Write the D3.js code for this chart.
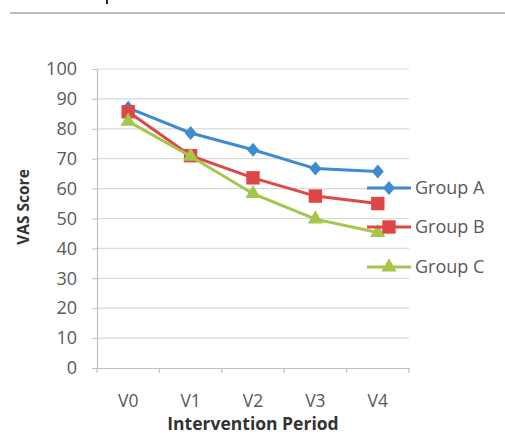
<!DOCTYPE html>
<html>
<head>
<meta charset="utf-8">
<script src="https://cdn.jsdelivr.net/npm/d3@7"></script>
<style>
  html, body { margin: 0; padding: 0; background: #fff; }
  svg { display: block; }
  text { font-family: "Open Sans", "Noto Sans", sans-serif; }
</style>
</head>
<body>
<svg id="chart" width="505" height="436"></svg>
<script>
// Visit periods and VAS scores per group
const periods = ["V0", "V1", "V2", "V3", "V4"];
const groupNames = ["Group A", "Group B", "Group C"];
const groupA = [87, 78.6, 73, 66.7, 65.7];
const groupB = [85.7, 71, 63.6, 57.5, 55];
const groupC = [82.5, 70.8, 58.3, 49.8, 45.3];
const yTicks = [0, 10, 20, 30, 40, 50, 60, 70, 80, 90, 100];
const colors = ["#3f8bd1", "#de4747", "#a4c64b"];

// Wide rhombus marker (slightly taller than wide)
const rhombus = {
  draw(context, size) {
    const w = Math.sqrt(size) * 0.55, h = Math.sqrt(size) * 0.64;
    context.moveTo(0, -h); context.lineTo(w, 0);
    context.lineTo(0, h); context.lineTo(-w, 0); context.closePath();
  }
};
const symbols = [rhombus, d3.symbolSquare, d3.symbolTriangle];
const symbolSizes = [120, 180, 100];

const series = [groupA, groupB, groupC].map((vals, i) => ({
  name: groupNames[i], values: vals, color: colors[i],
  symbol: symbols[i], size: symbolSizes[i]
}));

const svg = d3.select("#chart");
const plot = { left: 97, right: 409, top: 69, bottom: 368 };

const x = d3.scaleBand().domain(periods).range([plot.left, plot.right]);
const y = d3.scaleLinear().domain([0, 100]).range([plot.bottom, plot.top]);

// Fragment of a letter descender and separator rule above the figure
svg.append("rect").attr("x", 106).attr("y", 0).attr("width", 2).attr("height", 4)
  .attr("fill", "#222");
svg.append("line").attr("x1", 10).attr("x2", 505).attr("y1", 13).attr("y2", 13)
  .attr("stroke", "#bdbdbd").attr("stroke-width", 2);

// Horizontal gridlines
svg.append("g").selectAll("line").data(yTicks.filter(d => d > 0)).join("line")
  .attr("x1", plot.left).attr("x2", plot.right)
  .attr("y1", d => y(d)).attr("y2", d => y(d))
  .attr("stroke", "#d9d9d9").attr("stroke-width", 1.2);

// Y axis
const yAxis = svg.append("g").attr("transform", `translate(${plot.left},0)`)
  .call(d3.axisLeft(y).tickValues(yTicks).tickSize(5).tickPadding(15));
yAxis.select(".domain").attr("stroke", "#bfbfbf").attr("stroke-width", 1.2);
yAxis.selectAll(".tick line").attr("stroke", "#bfbfbf");
yAxis.selectAll("text").attr("font-size", 18).attr("fill", "#595959")
  .attr("font-family", "'Open Sans', sans-serif");

// X axis with tick marks at category boundaries
const xAxis = svg.append("g").attr("transform", `translate(0,${plot.bottom})`)
  .call(d3.axisBottom(x).tickSize(0).tickPadding(27));
xAxis.select(".domain").attr("stroke", "#bfbfbf").attr("stroke-width", 1.2);
xAxis.selectAll("text").attr("font-size", 17.5).attr("fill", "#595959")
  .attr("font-family", "'Open Sans', sans-serif");
const bounds = periods.map(p => x(p)).concat([x(periods[periods.length - 1]) + x.bandwidth()]);
svg.append("g").selectAll("line").data(bounds).join("line")
  .attr("x1", d => d).attr("x2", d => d)
  .attr("y1", plot.bottom).attr("y2", plot.bottom + 5)
  .attr("stroke", "#bfbfbf").attr("stroke-width", 1.2);

// Axis titles
svg.append("text").attr("x", 253).attr("y", 430).attr("text-anchor", "middle")
  .attr("font-size", 17.5).attr("font-weight", "bold").attr("fill", "#333")
  .text("Intervention Period");
svg.append("text").attr("transform", "translate(29,207) rotate(-90)")
  .attr("text-anchor", "middle").attr("font-size", 15.5).attr("font-weight", "bold")
  .attr("fill", "#333").text("VAS Score");

// Lines and markers
const cx = p => x(p) + x.bandwidth() / 2;
const line = d3.line().x((d, i) => cx(periods[i])).y(d => y(d));

series.forEach(s => {
  const g = svg.append("g");
  g.append("path").datum(s.values).attr("d", line)
    .attr("fill", "none").attr("stroke", s.color).attr("stroke-width", 3);
  g.selectAll("path.mk").data(s.values).join("path").attr("class", "mk")
    .attr("transform", (d, i) => `translate(${cx(periods[i])},${y(d)})`)
    .attr("d", d3.symbol().type(s.symbol).size(s.size))
    .attr("fill", s.color);
});

// Legend
const legendY = [188, 227, 267];
const legend = svg.append("g");
series.forEach((s, i) => {
  const g = legend.append("g").attr("transform", `translate(367,${legendY[i]})`);
  g.append("line").attr("x1", 0).attr("x2", 44).attr("y1", 0).attr("y2", 0)
    .attr("stroke", s.color).attr("stroke-width", 3);
  g.append("path").attr("transform", "translate(22,0)")
    .attr("d", d3.symbol().type(s.symbol).size(s.size)).attr("fill", s.color);
  g.append("text").attr("x", 48).attr("y", 0).attr("dy", "0.35em")
    .attr("font-size", 18).attr("fill", "#595959").text(s.name);
});
</script>
</body>
</html>
